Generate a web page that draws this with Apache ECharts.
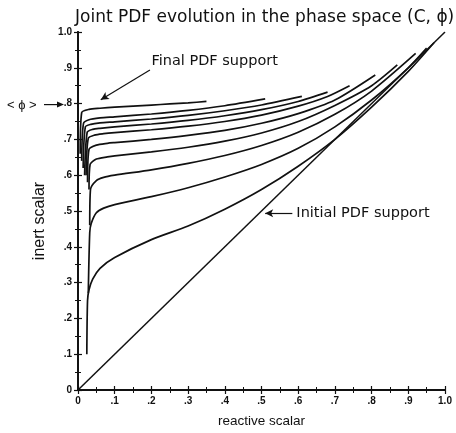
<!DOCTYPE html>
<html><head><meta charset="utf-8">
<script src="https://cdn.jsdelivr.net/npm/echarts@6/dist/echarts.min.js"></script>
<style>html,body{margin:0;padding:0;background:#fff}#c{width:456px;height:433px}</style>
</head><body><div id="c"></div>
<script>
// ---- data ----
const tickValues = [0, 0.1, 0.2, 0.3, 0.4, 0.5, 0.6, 0.7, 0.8, 0.9, 1.0];
const tickLabels = ['0', '.1', '.2', '.3', '.4', '.5', '.6', '.7', '.8', '.9', '1.0'];

const diagonal = [[0, 0], [1, 1]];
const curve1 = [[0.006,0.66],[0.01,0.775],[0.03,0.784],[0.06,0.787],[0.1,0.79],[0.15,0.793],[0.2,0.796],[0.25,0.799],[0.3,0.802],[0.35,0.806]];
const curve2 = [[0.01,0.64],[0.015,0.745],[0.03,0.755],[0.06,0.76],[0.1,0.763],[0.2,0.771],[0.3,0.781],[0.4,0.794],[0.51,0.813]];
const curve3 = [[0.014,0.62],[0.02,0.735],[0.035,0.742],[0.06,0.746],[0.1,0.749],[0.2,0.757],[0.3,0.767],[0.4,0.78],[0.5,0.796],[0.61,0.82]];
const curve4 = [[0.018,0.6],[0.025,0.72],[0.04,0.728],[0.06,0.731],[0.1,0.735],[0.2,0.743],[0.3,0.753],[0.4,0.766],[0.5,0.783],[0.6,0.806],[0.68,0.832]];
const curve5 = [[0.022,0.6],[0.028,0.703],[0.045,0.712],[0.07,0.716],[0.1,0.719],[0.2,0.727],[0.3,0.737],[0.4,0.75],[0.5,0.768],[0.6,0.793],[0.68,0.82],[0.74,0.85]];
const curve6 = [[0.026,0.58],[0.03,0.672],[0.05,0.684],[0.08,0.689],[0.1,0.691],[0.2,0.7],[0.3,0.711],[0.4,0.725],[0.5,0.745],[0.6,0.772],[0.7,0.81],[0.81,0.88]];
const curve7 = [[0.03,0.56],[0.033,0.63],[0.05,0.645],[0.08,0.651],[0.1,0.654],[0.2,0.665],[0.3,0.678],[0.4,0.695],[0.5,0.718],[0.6,0.75],[0.7,0.795],[0.8,0.85],[0.87,0.908]];
const curve8 = [[0.032,0.46],[0.034,0.56],[0.05,0.585],[0.07,0.594],[0.1,0.6],[0.2,0.615],[0.3,0.633],[0.4,0.655],[0.5,0.683],[0.6,0.72],[0.7,0.77],[0.8,0.835],[0.92,0.94]];
const curve9 = [[0.028,0.27],[0.032,0.44],[0.036,0.465],[0.05,0.495],[0.07,0.508],[0.1,0.518],[0.2,0.54],[0.3,0.565],[0.4,0.595],[0.5,0.63],[0.6,0.675],[0.7,0.735],[0.8,0.81],[0.9,0.9],[0.95,0.955]];
const curve10 = [[0.024,0.1],[0.026,0.25],[0.03,0.28],[0.04,0.31],[0.06,0.34],[0.1,0.37],[0.2,0.42],[0.3,0.458],[0.4,0.505],[0.5,0.56],[0.6,0.625],[0.7,0.7],[0.8,0.79],[0.9,0.89],[0.97,0.97]];
const curves = [curve1, curve2, curve3, curve4, curve5, curve6, curve7, curve8, curve9, curve10];

// annotation anchors in data space
const finalArrow = [[0.196, 0.894], [0.062, 0.811]];
const initialArrow = [[0.584, 0.494], [0.51, 0.494]];
const finalText = { x: 0.2, y: 0.917, text: 'Final PDF support' };
const initialText = { x: 0.595, y: 0.494, text: 'Initial PDF support' };

// ---- chart ----
const FONT = '"Liberation Sans", Arial, Helvetica, sans-serif';
const WIDE = '"DejaVu Sans", "Liberation Sans", Arial, sans-serif';
const INK = '#111';
const labelFmt = v => {
  const i = tickValues.findIndex(t => Math.abs(t - v) < 1e-6);
  return i >= 0 ? tickLabels[i] : '';
};
const axisCommon = {
  type: 'value', min: 0, max: 1, interval: 0.1,
  axisLine: { show: true, lineStyle: { color: INK, width: 1.8 } },
  axisTick: { show: true, inside: true, length: 4, lineStyle: { color: INK, width: 1.2 } },
  minorTick: { show: true, splitNumber: 2, length: 3, lineStyle: { color: INK, width: 1 } },
  splitLine: { show: false },
};
const chart = echarts.init(document.getElementById('c'), null, { renderer: 'canvas' });

const series = [{
  type: 'line', data: diagonal, showSymbol: false, animation: false,
  lineStyle: { color: INK, width: 1.5 },
  markLine: {
    silent: true, animation: false,
    symbol: ['none', 'arrow'], symbolSize: [6, 8],
    lineStyle: { color: INK, width: 1.2, type: 'solid' },
    label: { show: false },
    data: [
      [{ coord: finalArrow[0] }, { coord: finalArrow[1] }],
      [{ coord: initialArrow[0] }, { coord: initialArrow[1] }]
    ]
  }
}];
curves.forEach(c => series.push({
  type: 'line', data: c, showSymbol: false, animation: false, smooth: 0.25,
  lineStyle: { color: INK, width: 1.7 }
}));

chart.setOption({
  animation: false,
  backgroundColor: '#fff',
  title: {
    text: 'Joint PDF evolution in the phase space (C, \u03d5)',
    left: 70, top: 4,
    textStyle: { fontFamily: WIDE, fontSize: 17, fontWeight: 'normal', color: INK }
  },
  grid: { left: 78, right: 11, top: 32, bottom: 41, containLabel: false },
  xAxis: [
    Object.assign({}, axisCommon, {
      position: 'bottom',
      name: 'reactive scalar', nameLocation: 'middle', nameGap: 24,
      nameTextStyle: { fontFamily: FONT, fontSize: 13.5, color: INK },
      axisLabel: { formatter: labelFmt, fontFamily: FONT, fontSize: 10, fontWeight: 'bold', color: INK, margin: 6 }
    }),
    Object.assign({}, axisCommon, { position: 'top', axisLabel: { show: false } })
  ],
  yAxis: [
    Object.assign({}, axisCommon, {
      position: 'left',
      name: 'inert scalar', nameLocation: 'middle', nameGap: 30,
      nameTextStyle: { fontFamily: FONT, fontSize: 16, color: INK, padding: [0, 20, 0, 0] },
      axisLabel: { formatter: labelFmt, fontFamily: FONT, fontSize: 10, fontWeight: 'bold', color: INK, margin: 6 }
    }),
    Object.assign({}, axisCommon, { position: 'right', axisLabel: { show: false } })
  ],
  series: series
});

// text annotations placed through the axes' own scales
const toPx = p => chart.convertToPixel({ gridIndex: 0 }, p);
const pf = toPx([finalText.x, finalText.y]);
const pi = toPx([initialText.x, initialText.y]);
const p8 = toPx([0, 0.8]);
chart.setOption({
  graphic: [
    { type: 'text', x: pf[0], y: pf[1], style: { text: finalText.text, font: '14.5px ' + WIDE, fill: INK, textVerticalAlign: 'middle' } },
    { type: 'text', x: pi[0], y: pi[1], style: { text: initialText.text, font: '14.5px ' + WIDE, fill: INK, textVerticalAlign: 'middle' } },
    { type: 'text', x: 7, y: p8[1] + 2, style: { text: '< \u03d5 >', font: '13px ' + FONT, fill: INK, textVerticalAlign: 'middle' } },
    { type: 'line', shape: { x1: 44, y1: p8[1] + 1, x2: 58, y2: p8[1] + 1 }, style: { stroke: INK, lineWidth: 1.2 } },
    { type: 'polygon', shape: { points: [[64, p8[1] + 1], [57, p8[1] - 2], [57, p8[1] + 4]] }, style: { fill: INK } }
  ]
});
</script>
</body></html>
